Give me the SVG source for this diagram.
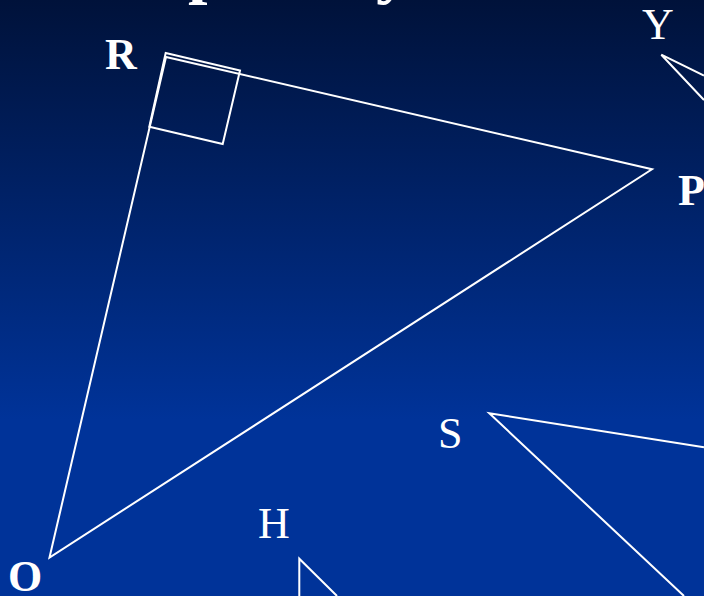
<svg xmlns="http://www.w3.org/2000/svg" width="704" height="596" viewBox="0 0 704 596">
  <defs>
    <linearGradient id="bg" gradientUnits="userSpaceOnUse" x1="0" y1="0" x2="0" y2="420">
      <stop offset="0" stop-color="#00123a"/>
      <stop offset="1" stop-color="#003399"/>
    </linearGradient>
  </defs>
  <style>
    .ln { fill: none; stroke: #ffffff; stroke-width: 2; stroke-linejoin: miter; }
    .lb { fill: #ffffff; font-family: "Liberation Serif", "Times New Roman", serif; font-size: 44px; }
    .bd { font-weight: bold; }
  </style>
  <rect x="0" y="0" width="704" height="596" fill="url(#bg)"/>
  <g id="title">
    <text class="lb bd" x="188" y="-10" style="font-size:70px">p</text>
    <text class="lb bd" x="376" y="-10" style="font-size:70px">y</text>
  </g>
  <g id="connectors">
    <polygon id="triangle-ORP" class="ln" points="49.5,557.5 166,57 652,169.3"/>
    <polygon id="right-angle-R" class="ln" points="165.7,53 240,70.5 222.7,144 149.3,126.7"/>
    <polyline id="triangle-Y" class="ln" points="704,75.5 661.3,54.7 704,100"/>
    <polyline id="triangle-S" class="ln" points="704,447.3 489.3,413.3 684,596"/>
    <polyline id="triangle-H" class="ln" points="299.3,596 299.3,558.7 337,596"/>
  </g>
  <g id="label-R"><text class="lb bd" x="105" y="69">R</text></g>
  <g id="label-P"><text class="lb bd" x="678" y="205">P</text></g>
  <g id="label-O"><text class="lb bd" x="8" y="591">O</text></g>
  <g id="label-Y"><text class="lb" x="642" y="39">Y</text></g>
  <g id="label-S"><text class="lb" x="438" y="448">S</text></g>
  <g id="label-H"><text class="lb" x="258" y="538">H</text></g>
</svg>
